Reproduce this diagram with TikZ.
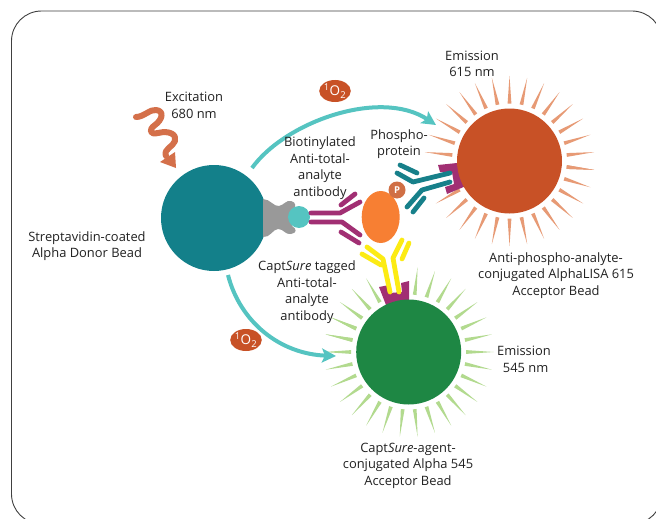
\documentclass[tikz,border=0pt]{standalone}
\usepackage{fontspec}
\setmainfont{Open Sans}
\usetikzlibrary{arrows.meta,calc,shapes.geometric}
\definecolor{donorteal}{HTML}{13808A}
\definecolor{abteal}{HTML}{17808A}
\definecolor{magentaab}{HTML}{A12F73}
\definecolor{cyanarc}{HTML}{55C4C1}
\definecolor{beadred}{HTML}{C85126}
\definecolor{raybrown}{HTML}{E79A75}
\definecolor{beadgreen}{HTML}{1E8744}
\definecolor{raygreen}{HTML}{B2DA8E}
\definecolor{analyte}{HTML}{F77F33}
\definecolor{pbadge}{HTML}{D06F45}
\definecolor{yellowab}{HTML}{FCEB14}
\definecolor{grip}{HTML}{999999}
\definecolor{squig}{HTML}{D4704A}
\definecolor{labelc}{HTML}{222222}
\tikzset{
  lab/.style={align=center,text=labelc,font=\fontsize{12.9}{16.5}\selectfont,inner sep=0pt},
  bead/.style={circle,inner sep=0pt,minimum size=#1},
  abstroke/.style={line width=4.8pt,line cap=round,line join=round},
  arc/.style={draw=cyanarc,line width=4pt,-{Stealth[length=14pt,width=14pt,inset=3pt]}},
  badge/.style={ellipse,fill=beadred,text=white,inner sep=0pt,minimum width=31pt,minimum height=22pt,font=\fontsize{13.5}{13.5}\selectfont},
  frame/.style={draw=black!75,line width=0.9pt,rounded corners=30pt}
}
\newcommand{\raysat}[3]{%
  \begin{scope}[shift={(#1)},x=1pt,y=1pt]
    \foreach \a in {#3}{
      \fill[#2,rotate=\a] (57.5,-1.9) -- (85,0) -- (57.5,1.9) -- cycle;
    }
  \end{scope}}
\begin{document}
\begin{tikzpicture}[x=1pt,y=-1pt]
\useasboundingbox (0,0) rectangle (656,519);
\clip (0,0) rectangle (656,519);
\fill[white] (0,0) rectangle (656,519);
\draw[frame] (11.5,11) rectangle (662,524);

% rays
\raysat{509.5,161}{raybrown}{6,18,30,42,54,66,78,90,102,114,126,138,150,162,174,210,222,234,246,258,270,282,294,306,318,330,342,354,-6}
\raysat{408.7,352}{raygreen}{84,72,60,48,36,24,12,0,-12,-24,-36,-48,-60,-72,-84,-96,-108,-120,-132,-144,-156,-168,-180,-192,-204,120,132,144,156,168}

% beads
\node[bead=106pt,fill=donorteal] (donor) at (214,218) {};

% grip
\fill[grip] (263,199) .. controls (270,199) and (274,207) .. (279,206)
  .. controls (284,205) and (286,200) .. (291,201)
  .. controls (296,202) and (297,207) .. (292,211) -- (292,226)
  .. controls (297,229) and (297,233) .. (291,234)
  .. controls (285,235) and (284,229) .. (278,229)
  .. controls (273,229) and (270,238) .. (263,237) -- cycle;
\node[bead=22pt,fill=cyanarc] (biotin) at (299,217) {};

% holders
\fill[magentaab] (438,165) -- (457,163) -- (466,186) -- (447,194) -- (445,187) -- (454,184) -- (452,172) -- (440,172) -- cycle;
\fill[magentaab] (379,287) -- (389,285) -- (390,293) -- (402,292) -- (401,283) -- (409,281) -- (409,302) -- (386,305) -- cycle;

\node[bead=105pt,fill=beadred] (redbead) at (509.5,161) {};
\node[bead=105pt,fill=beadgreen] (greenbead) at (408.7,352) {};

% analyte
\node[ellipse,fill=analyte,inner sep=0pt,minimum width=38pt,minimum height=52pt] (ana) at (380.7,217) {};
\node[bead=17pt,fill=pbadge,text=white,font=\fontsize{9.5}{9.5}\selectfont\bfseries] (pp) at (397,190) {P};

% magenta antibody
\draw[magentaab,abstroke] (311,213) -- (340,213) -- (360,202);
\draw[magentaab,abstroke] (311,222) -- (342,222) -- (360,235);
\draw[magentaab,abstroke] (341,205) -- (355,194);
\draw[magentaab,abstroke] (341,232) -- (359,243);

% teal antibody
\draw[abteal,abstroke] (400,165) -- (417,173);
\draw[abteal,abstroke] (397,173) -- (413,182) -- (450,173);
\draw[abteal,abstroke] (450,182) -- (422,190) -- (407,207);
\draw[abteal,abstroke] (413,212) -- (424,198);

% yellow antibody
\draw[yellowab,abstroke] (362,254) -- (381,265);
\draw[yellowab,abstroke] (367,247) -- (383,259) -- (390,292);
\draw[yellowab,abstroke] (402,240) -- (393,258) -- (399,292);
\draw[yellowab,abstroke] (409,243) -- (402,259);

% arcs
\coordinate (arcAs) at (252,168);
\coordinate (arcAe) at (436,125);
\coordinate (arcBs) at (228,275);
\coordinate (arcBe) at (336,356);
\draw[arc] (arcAs) .. controls (285,122) and (380,88) .. (arcAe);
\draw[arc] (arcBs) .. controls (240,322) and (280,354) .. (arcBe);

% badges
\node[badge] (o2a) at (335,91) {\textsuperscript{1}O\textsubscript{2}};
\node[badge] (o2b) at (246,340) {\textsuperscript{1}O\textsubscript{2}};

% squiggle
\coordinate (sqs) at (136,117);
\coordinate (sqe) at (166,156);
\draw[squig,line width=6pt,line cap=round,line join=round] (sqs) .. controls (144,117) and (150,109) .. (156,110)
  .. controls (165,111) and (162,120) .. (155,125)
  .. controls (148,130) and (150,135) .. (158,133)
  .. controls (170,130) and (177,135) .. (175,141)
  .. controls (173,147) and (163,149) .. (sqe);
\fill[squig] (160,162) -- (175,152) -- (176,168) -- cycle;

% labels
\node[lab] (t1) at (194,105.5) {Excitation\\680 nm};
\node[lab] (t2) at (472,64) {Emission\\615 nm};
\node[lab] (t3) at (320,168) {Biotinylated\\Anti-total-\\analyte\\antibody};
\node[lab] (t4) at (399,144) {Phospho-\\protein};
\node[lab] (t5) at (87,246) {Streptavidin-coated\\Alpha Donor Bead};
\node[lab] (t6) at (307,292) {Capt\textit{Sure} tagged\\Anti-total-\\analyte\\antibody};
\node[lab] (t7) at (556,275.5) {Anti-phospho-analyte-\\conjugated AlphaLISA 615\\Acceptor Bead};
\node[lab] (t8) at (524,359.5) {Emission\\\ 545 nm};
\node[lab] (t9) at (408,465.5) {Capt\textit{Sure}-agent-\\conjugated Alpha 545\\Acceptor Bead};
\end{tikzpicture}
\end{document}
